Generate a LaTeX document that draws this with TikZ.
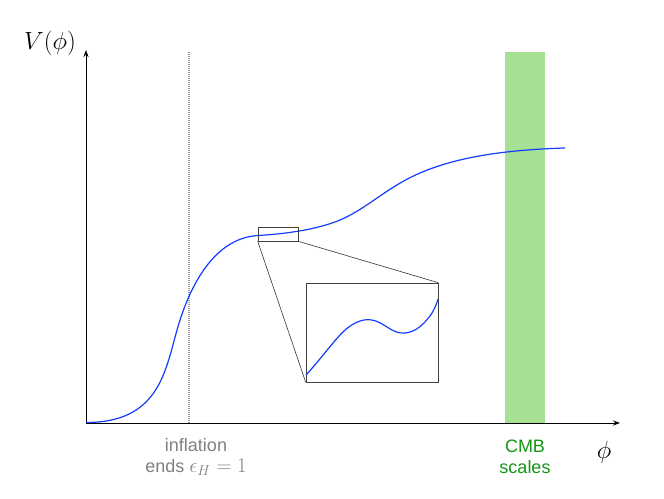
\documentclass[tikz,border=0pt]{standalone}
\usepackage{fontspec}
\setsansfont{Liberation Sans}
\usetikzlibrary{arrows.meta}
\definecolor{cmbgreen}{RGB}{165,224,148}
\definecolor{cmbtext}{RGB}{20,150,20}
\definecolor{curveblue}{RGB}{20,60,255}
\definecolor{labgray}{RGB}{128,128,128}
\definecolor{dotgray}{RGB}{150,150,150}
\tikzset{
  axis/.style={line width=1pt,-{Stealth[length=7pt,width=5pt]}},
  curve/.style={curveblue,line width=1.2pt},
  lab/.style={font=\sffamily\fontsize{18}{21}\selectfont,align=center},
  frame/.style={draw=black!75,line width=0.6pt}
}
\begin{document}
\begin{tikzpicture}[x=1pt,y=-1pt]
\useasboundingbox (0,0) rectangle (664,498);
\fill[cmbgreen] (505,52) rectangle (545,423);
\draw[dotgray,line width=1.6pt,dash pattern=on 1pt off 1pt] (189,52) -- (189,423);
\coordinate (O) at (86,423);
\coordinate (Ytop) at (86,50);
\coordinate (Xend) at (620,423);
\draw[axis] (O) -- (Ytop);
\draw[axis] (O) -- (Xend);
\draw[curve] (86,422.5) .. controls (158,422.5) and (165,373) .. (177,330)
  .. controls (190,284) and (215,238) .. (258,235.5)
  .. controls (280,234.2) and (310,231) .. (335,222)
  .. controls (365,211) and (385,188) .. (420,173)
  .. controls (455,158) and (500,150) .. (565,148);
\node[frame,minimum width=40pt,minimum height=14pt,inner sep=0pt] (small) at (278,234) {};
\node[frame,minimum width=132pt,minimum height=99pt,inner sep=0pt] (big) at (372,332.5) {};
\draw[black!80,line width=0.6pt] (small.south west) -- (big.south west);
\draw[black!80,line width=0.6pt] (small.south east) -- (big.north east);
\draw[curve] (306,375) .. controls (318,362) and (330,346) .. (340,335)
  .. controls (350,324) and (362,318) .. (372,320)
  .. controls (384,322) and (392,334) .. (404,333)
  .. controls (416,333) and (426,322) .. (432,313)
  .. controls (435,308) and (437,303) .. (438,299);
\node[font=\fontsize{23}{26}\selectfont] (V) at (50,43) {$V(\phi)$};
\node[font=\fontsize{27}{30}\selectfont] (phi) at (604,452) {$\phi$};
\node[lab,text=labgray] (infl) at (196,457) {inflation\\ends {\fontsize{20}{21}\selectfont$\epsilon_H = 1$}};
\node[lab,text=cmbtext] (cmb) at (525,457) {CMB\\scales};
\end{tikzpicture}
\end{document}
